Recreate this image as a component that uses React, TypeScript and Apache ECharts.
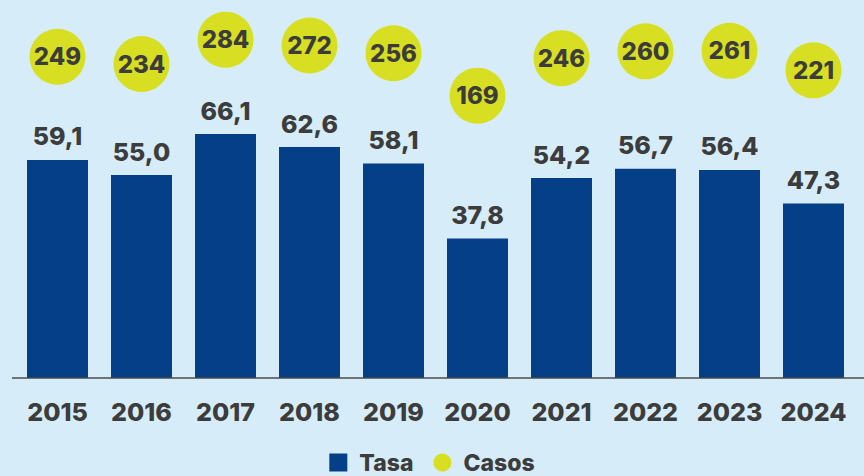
import React, { useEffect, useRef } from "react";
import * as echarts from "echarts";

const years = ["2015", "2016", "2017", "2018", "2019", "2020", "2021", "2022", "2023", "2024"];
const tasa = [59.1, 55.0, 66.1, 62.6, 58.1, 37.8, 54.2, 56.7, 56.4, 47.3];
const casos = [249, 234, 284, 272, 256, 169, 246, 260, 261, 221];

const FONT = "Inter, 'Open Sans', sans-serif";
const TEXT = "#3c3c3c";

export default function App() {
  const ref = useRef<HTMLDivElement>(null);
  useEffect(() => {
    if (!ref.current) return;
    const chart = echarts.init(ref.current, undefined, { renderer: "svg" });
    chart.setOption({
      animation: false,
      backgroundColor: "#d6edf9",
      textStyle: { fontFamily: FONT },
      grid: { left: 15.5, right: 8.5, top: 9, bottom: 98 },
      graphic: [
        {
          type: "line",
          shape: { x1: 12, y1: 378, x2: 864, y2: 378 },
          style: { stroke: "#4a4a4a", lineWidth: 1.5 },
          z: 10,
        },
      ],
      legend: {
        data: [
          { name: "Tasa", icon: "rect" },
          { name: "Casos", icon: "circle" },
        ],
        left: "center",
        top: 446,
        itemWidth: 18,
        itemHeight: 18,
        itemGap: 20,
        textStyle: {
          fontSize: 23,
          fontWeight: 800,
          color: TEXT,
          fontFamily: FONT,
          padding: [0, 0, 0, 7],
        },
      },
      xAxis: {
        type: "category",
        data: years,
        axisLine: { show: false },
        axisTick: { show: false },
        axisLabel: { fontSize: 25, fontWeight: 800, color: TEXT, margin: 21, fontFamily: FONT, interval: 0 },
      },
      yAxis: [
        { type: "value", min: 0, max: 100, show: false, splitLine: { show: false } },
        { type: "value", min: -411, max: 347, show: false, splitLine: { show: false } },
      ],
      series: [
        {
          name: "Tasa",
          type: "bar",
          data: tasa,
          barWidth: 61,
          itemStyle: { color: "#053f88" },
          label: {
            show: true,
            position: "top",
            distance: 11,
            fontSize: 25,
            fontWeight: 800,
            color: TEXT,
            fontFamily: FONT,
            formatter: (p: any) => p.value.toFixed(1).replace(".", ","),
          },
        },
        {
          name: "Casos",
          type: "scatter",
          yAxisIndex: 1,
          data: casos,
          symbol: "circle",
          symbolSize: 56,
          itemStyle: { color: "#d8df22", opacity: 1 },
          label: {
            show: true,
            position: "inside",
            fontSize: 24,
            fontWeight: 800,
            color: TEXT,
            fontFamily: FONT,
          },
        },
      ],
    });
    return () => chart.dispose();
  }, []);
  return (
    <div
      ref={ref}
      style={{ position: "fixed", left: 0, top: 0, width: 864, height: 476 }}
    />
  );
}
